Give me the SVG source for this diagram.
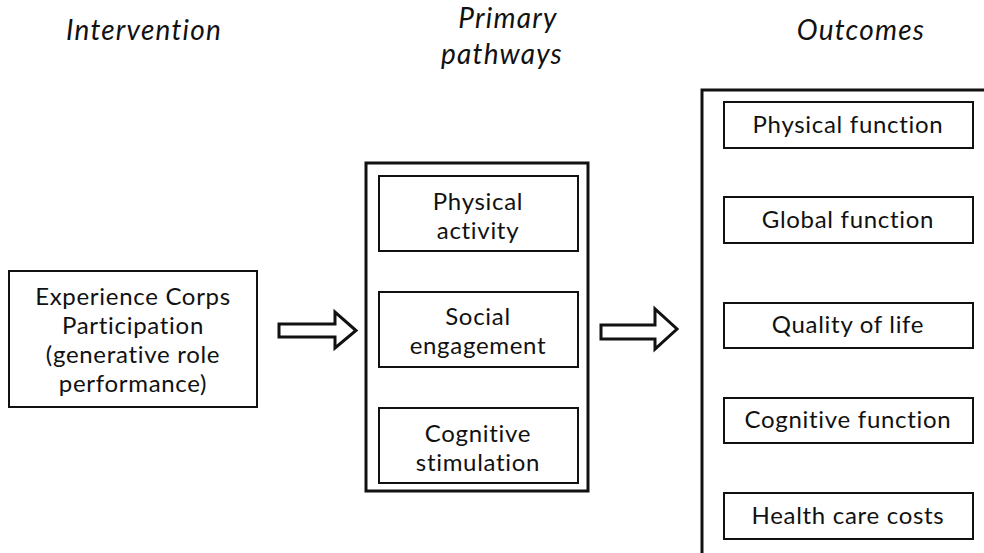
<svg xmlns="http://www.w3.org/2000/svg" width="984" height="553" viewBox="0 0 984 553">
<style>
.hd{font-family:Lato,"Open Sans",sans-serif;font-style:italic;font-size:28px;letter-spacing:1.2px;fill:#111;text-anchor:middle}
.tx{font-family:Lato,"Open Sans",sans-serif;font-size:24px;letter-spacing:0.7px;fill:#111;text-anchor:middle}
.box{fill:#fff;stroke:#111;stroke-width:2}
.outer{fill:#fff;stroke:#111;stroke-width:3}
.arr{fill:#fff;stroke:#111;stroke-width:3;stroke-linejoin:miter}
</style>
<rect width="984" height="553" fill="#fff"/>
<g id="headers">
<text class="hd" x="144" y="40">Intervention</text>
<text class="hd" x="508" y="28">Primary</text>
<text class="hd" x="502" y="64">pathways</text>
<text class="hd" x="861" y="40">Outcomes</text>
</g>
<g id="intervention">
<rect class="box" x="9" y="271" width="248" height="136"/>
<text class="tx" x="133" y="305">Experience Corps</text>
<text class="tx" x="133" y="334">Participation</text>
<text class="tx" x="133" y="363">(generative role</text>
<text class="tx" x="133" y="392">performance)</text>
</g>
<g id="pathways">
<rect class="outer" x="366" y="163" width="222" height="328"/>
<g id="physical-activity">
<rect class="box" x="379" y="176" width="199" height="75"/>
<text class="tx" x="478" y="210">Physical</text>
<text class="tx" x="478" y="239">activity</text>
</g>
<g id="social-engagement">
<rect class="box" x="379" y="292" width="199" height="75"/>
<text class="tx" x="478" y="325">Social</text>
<text class="tx" x="478" y="354">engagement</text>
</g>
<g id="cognitive-stimulation">
<rect class="box" x="379" y="408" width="199" height="75"/>
<text class="tx" x="478" y="442">Cognitive</text>
<text class="tx" x="478" y="471">stimulation</text>
</g>
</g>
<g id="outcomes">
<rect class="outer" x="702" y="90" width="290" height="480"/>
<g id="physical-function">
<rect class="box" x="724" y="102" width="249" height="46"/>
<text class="tx" x="848" y="133">Physical function</text>
</g>
<g id="global-function">
<rect class="box" x="724" y="197" width="249" height="46"/>
<text class="tx" x="848" y="228">Global function</text>
</g>
<g id="quality-of-life">
<rect class="box" x="724" y="303" width="249" height="45"/>
<text class="tx" x="848" y="333">Quality of life</text>
</g>
<g id="cognitive-function">
<rect class="box" x="724" y="398" width="249" height="45"/>
<text class="tx" x="848" y="428">Cognitive function</text>
</g>
<g id="health-care-costs">
<rect class="box" x="724" y="493" width="249" height="46"/>
<text class="tx" x="848" y="524">Health care costs</text>
</g>
</g>
<g id="connectors">
<path class="arr" d="M279,324 H335 V312 L356,330.5 L335,348 V337 H279 Z"/>
<path class="arr" d="M601,325 H655 V309 L677,329 L655,349 V339 H601 Z"/>
</g>
</svg>
